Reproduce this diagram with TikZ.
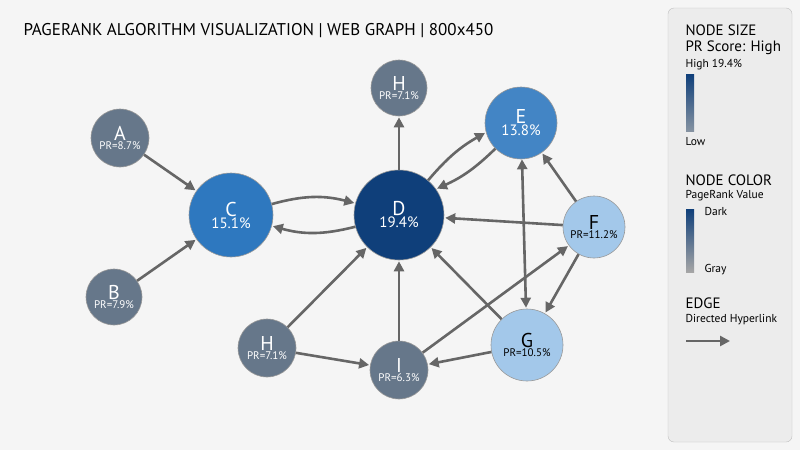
\documentclass[tikz,border=0pt]{standalone}
\usepackage{fontspec}
\setmainfont{PT Sans}
\usetikzlibrary{arrows.meta}
\definecolor{grayn}{HTML}{66778A}
\definecolor{darkn}{HTML}{0F3F7A}
\definecolor{midn}{HTML}{2E78BF}
\definecolor{lightn}{HTML}{A3C8EA}
\definecolor{edgec}{HTML}{666666}
\newcommand{\pglet}{\fontsize{20}{22}\selectfont}
\newcommand{\pgbig}{\fontsize{15}{17}\selectfont}
\newcommand{\pgsmall}{\fontsize{11}{12}\selectfont}
\tikzset{
  pnode/.style = {circle, draw = white!60!black, line width = 0.6pt, text = white, align = center, inner sep = 0pt},
  link/.style = {draw = edgec, line width = 2.6pt, -{Triangle[length = 10pt, width = 10pt]}, shorten >= 1pt},
  legtitle/.style = {anchor = west, font = \fontsize{15}{16}\selectfont},
  legtext/.style = {anchor = west, font = \fontsize{11.5}{12}\selectfont}
}
\begin{document}
\begin{tikzpicture}[x = 1pt, y = -1pt]
\useasboundingbox (0,0) rectangle (800,450);
\fill[gray!8] (0,0) rectangle (800,450);
\node[anchor = west, font = \fontsize{17}{18}\selectfont] (title) at (20,31) {PAGERANK ALGORITHM VISUALIZATION | WEB GRAPH | 800x450};
% nodes
\node[pnode, fill = grayn, minimum size = 58pt] (A) at (120,138) {{\pglet A}\\[-3pt]\pgsmall PR=8.7\%};
\node[pnode, fill = grayn, minimum size = 56pt] (B) at (114,297) {{\pglet B}\\[-3pt]\pgsmall PR=7.9\%};
\node[pnode, fill = midn, minimum size = 84pt] (C) at (231,215) {{\pglet C}\\[0pt]{\pgbig 15.1\%}};
\node[pnode, fill = darkn, minimum size = 90pt] (D) at (399,215) {{\pglet D}\\[0pt]{\pgbig 19.4\%}};
\node[pnode, fill = grayn, minimum size = 56pt] (Ht) at (399,88) {{\pglet H}\\[-3pt]\pgsmall PR=7.1\%};
\node[pnode, fill = midn!90!white, minimum size = 72pt] (E) at (521,123) {{\pglet E}\\[0pt]{\pgbig 13.8\%}};
\node[pnode, fill = lightn, text = black, minimum size = 62pt] (F) at (594,227) {{\pglet F}\\[-3pt]\pgsmall PR=11.2\%};
\node[pnode, fill = lightn, text = black, minimum size = 72pt] (G) at (527,345) {{\pglet G}\\[-3pt]\pgsmall PR=10.5\%};
\node[pnode, fill = grayn, minimum size = 58pt] (Hb) at (267,348) {{\pglet H}\\[-3pt]\pgsmall PR=7.1\%};
\node[pnode, fill = grayn, minimum size = 58pt] (I) at (399,370) {{\pglet I}\\[-3pt]\pgsmall PR=6.3\%};
% links
\draw[link] (A) -- (C);
\draw[link] (B) -- (C);
\draw[link] (C.15) to[bend left = 15] (D.165);
\draw[link] (D.195) to[bend left = 15] (C.345);
\draw[link] (D) -- (Ht);
\draw[link] (D.50) to[bend left = 10] (E.195);
\draw[link] (E.225) to[bend left = 10] (D.35);
\draw[link] (F) -- (D);
\draw[link] (F) -- (E);
\draw[link] (F) -- (G);
\draw[link, {Triangle[length = 10pt, width = 10pt]}-{Triangle[length = 10pt, width = 10pt]}] (E) -- (G);
\draw[link] (G) -- (D);
\draw[link] (Hb) -- (D);
\draw[link] (Hb) -- (I);
\draw[link] (I) -- (D);
\draw[link] (I) -- (F);
\draw[link] (G) -- (I);
% legend
\draw[gray!50, fill = gray!15, rounded corners = 6pt] (668,8) rectangle (792,442);
\node[legtitle] (ls) at (682,30) {NODE SIZE};
\node[legtitle] (lsv) at (682,48) {PR Score: High};
\node[legtext] (lhi) at (682,65) {High 19.4\%};
\shade[top color = darkn, bottom color = grayn!80] (686,74) rectangle (694,131);
\node[legtext] (llo) at (682,142) {Low};
\node[legtitle] (lc) at (682,180) {NODE COLOR};
\node[legtext] (lcv) at (682,196) {PageRank Value};
\shade[top color = darkn, bottom color = gray!70] (686,209) rectangle (694,272);
\node[legtext] (ldk) at (701,211) {Dark};
\node[legtext] (lgy) at (701,270) {Gray};
\node[legtitle] (le) at (682,303) {EDGE};
\node[legtext] (lev) at (682,320) {Directed Hyperlink};
\coordinate (la) at (686,341);
\coordinate (lb) at (731,341);
\draw[link] (la) -- (lb);
\end{tikzpicture}
\end{document}
